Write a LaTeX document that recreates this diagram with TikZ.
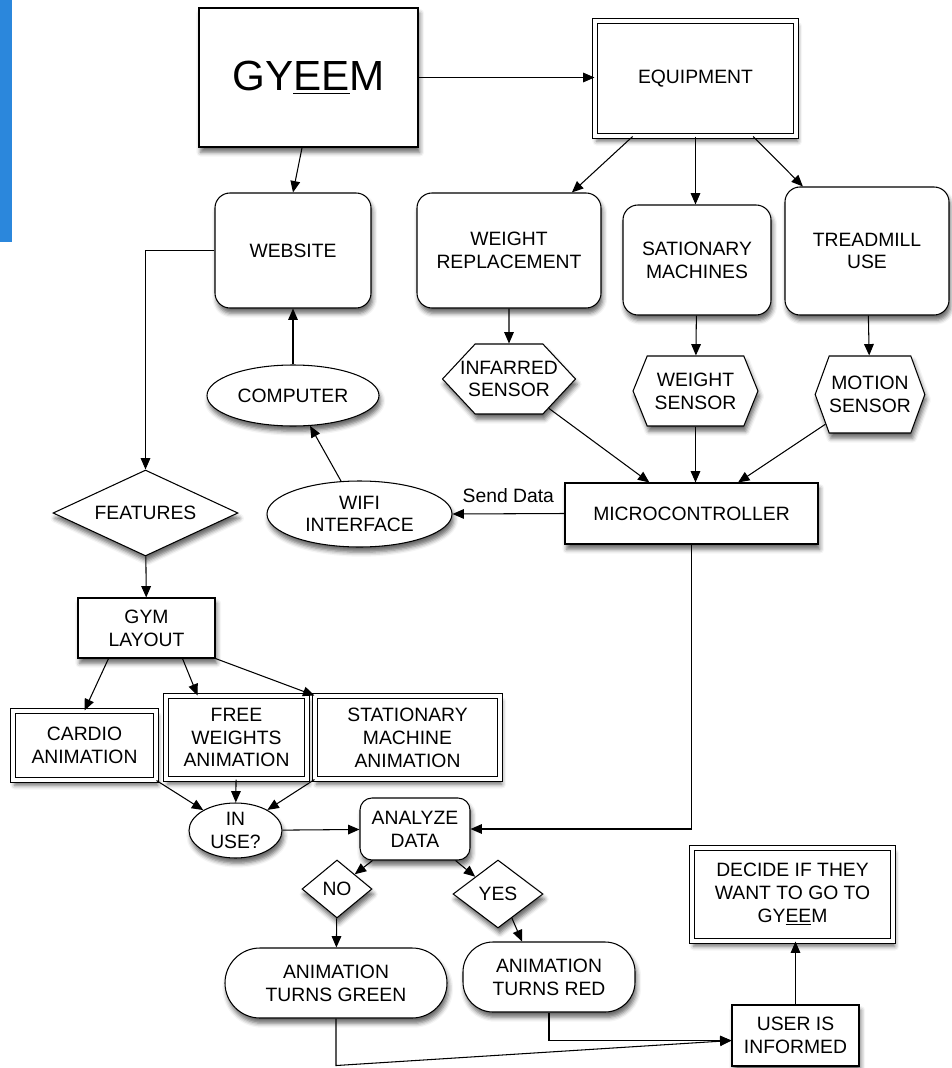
\documentclass[tikz,border=0pt]{standalone}
\usepackage{fontspec}
\setmainfont{Liberation Sans}
\usetikzlibrary{shapes.geometric,shapes.symbols,arrows.meta,shadows.blur}
\definecolor{barblue}{HTML}{2B87DC}

\begin{document}
\begin{tikzpicture}[x=0.02cm, y=-0.02cm, line width=0.6pt,
  font=\fontsize{11}{13}\selectfont,
  >={Triangle[length=6.5pt,width=5.5pt]},
  every node/.style={align=center, inner sep=0pt},
  px/.style 2 args={minimum width=#1*0.02cm, minimum height=#2*0.02cm},
  softshadow/.style={blur shadow={shadow xshift=1pt, shadow yshift=-3pt, shadow blur radius=2.5pt, shadow opacity=60}},
  plainbox/.style={draw, fill=white, rectangle, softshadow},
  roundbox/.style={plainbox, rounded corners=0.3cm},
  doublebox/.style={draw, double, double distance=1.8pt, fill=white, softshadow},
  oval/.style={ellipse, draw, fill=white, softshadow},
  choice/.style={diamond, aspect=2, draw, fill=white, softshadow},
  sensor/.style={signal, signal to=west and east, draw, fill=white, softshadow},
  pill/.style={plainbox, rounded corners=0.7cm}]
\useasboundingbox (0,0) rectangle (951,1068);
\fill[barblue] (0,0) rectangle (12,242);

% top row
\node[plainbox, line width=1pt, px={219}{139}, font=\fontsize{24}{28}\selectfont] (gyeem) at (308.5,77.5) {GY\underline{EE}M};
\node[doublebox, px={201}{115}] (equip) at (695.5,78.5) {EQUIPMENT};
\node[roundbox, px={156}{115}] (website) at (293,250.5) {WEBSITE};
\node[roundbox, px={184}{115}] (weightrep) at (509,250.5) {WEIGHT\\REPLACEMENT};
\node[roundbox, px={148}{110}] (stationary) at (697,260) {SATIONARY\\MACHINES};
\node[roundbox, px={164}{128}] (treadmill) at (867,251) {TREADMILL\\USE};

% sensors
\node[sensor, signal pointer angle=94, inner xsep=-0.3cm, minimum height=1.4cm] (infrared) at (509,379) {INFARRED\\SENSOR};
\node[sensor, signal pointer angle=136, inner xsep=0.15cm, minimum height=1.4cm] (wsensor) at (695.5,391) {WEIGHT\\SENSOR};
\node[sensor, signal pointer angle=140, inner xsep=0cm, minimum height=1.54cm] (motion) at (870,394.5) {MOTION\\SENSOR};

\node[oval, px={172}{61}] (computer) at (293,395.5) {COMPUTER};
\node[oval, px={185}{66}] (wifi) at (359.5,514) {WIFI\\INTERFACE};
\node[plainbox, px={253}{61}] (micro) at (691.5,513.5) {MICROCONTROLLER};

% gym layout side
\node[choice, px={185}{86}] (features) at (145.5,513) {FEATURES};
\node[plainbox, px={137}{60}] (gym) at (146.5,628) {GYM\\LAYOUT};
\node[doublebox, px={143}{69}] (cardio) at (84.5,745.5) {CARDIO\\ANIMATION};
\node[doublebox, px={141}{83}] (freew) at (236.5,737.5) {FREE\\WEIGHTS\\ANIMATION};
\node[doublebox, px={185}{83}] (statanim) at (407.5,737.5) {STATIONARY\\MACHINE\\ANIMATION};
\node[oval, px={93}{55}] (inuse) at (235.5,830.5) {IN\\USE?};
\node[roundbox, rounded corners=0.24cm, px={110}{62}] (analyze) at (415,829) {ANALYZE\\DATA};
\node[choice, px={70}{58}] (no) at (337,889) {NO};
\node[choice, px={90}{68}] (yes) at (498,894) {YES};
\node[pill, px={222}{70}] (green) at (336,983) {ANIMATION\\TURNS GREEN};
\node[pill, rounded corners=0.6cm, px={172}{70}] (red) at (549,977) {ANIMATION\\TURNS RED};
\node[plainbox, px={127}{61}] (user) at (795.5,1035.5) {USER IS\\INFORMED};
\node[doublebox, px={201}{93}] (decide) at (792.5,894.5) {DECIDE IF THEY\\WANT TO GO TO\\GY\underline{EE}M};

% connectors
\draw[->] (gyeem.east) -- (gyeem.east -| equip.west);
\draw[->] ([xshift=-0.13cm]gyeem.south) -- (website.north);
\draw[->] (equip) -- (weightrep);
\draw[->] (equip.south) -- (equip.south |- stationary.north);
\draw[->] (equip) -- (treadmill);
\draw[->] (weightrep) -- (infrared);
\draw[->] (stationary) -- (wsensor);
\draw[->] (treadmill) -- (motion);
\draw[->] (infrared) -- (micro);
\draw[->] (wsensor.south) -- (wsensor.south |- micro.north);
\draw[->] (motion) -- (micro);
\draw[->] (micro.west) -- (wifi.east) node[pos=0, anchor=south east, xshift=-0.2cm, yshift=0.2cm] {Send Data};
\draw[->] (wifi) -- (computer);
\draw[->] (computer) -- (website);
\draw[->] (website.west) -| (features.north);
\draw[->] (features) -- (gym);
\draw[->] ([xshift=-0.76cm]gym.south) -- (cardio.north);
\draw[->] ([xshift=0.72cm]gym.south) -- ([xshift=-0.78cm]freew.north);
\draw[->] (gym.south east) -- (statanim.north west);
\draw[->] (cardio.south east) -- (inuse);
\draw[->] (freew) -- (inuse);
\draw[->] (statanim.south west) -- (inuse);
\draw[->] (inuse) -- (analyze);
\draw[->] (micro.south) |- (analyze.east);
\draw[->] ([xshift=0.26cm]analyze.south west) -- (no.north east);
\draw[->] ([xshift=-0.3cm]analyze.south east) -- (yes.north west);
\draw[->] (no) -- (green);
\draw[->] (yes.-60) -- ([xshift=-0.54cm]red.north);
\coordinate (inform) at ([yshift=-0.1cm]user.west);
\draw[->] (green.south) -- ++(0,47) -- (inform);
\draw[->] (red.south) |- (inform);
\draw[->] (user.north) -- (user.north |- decide.south);
\end{tikzpicture}
\end{document}
